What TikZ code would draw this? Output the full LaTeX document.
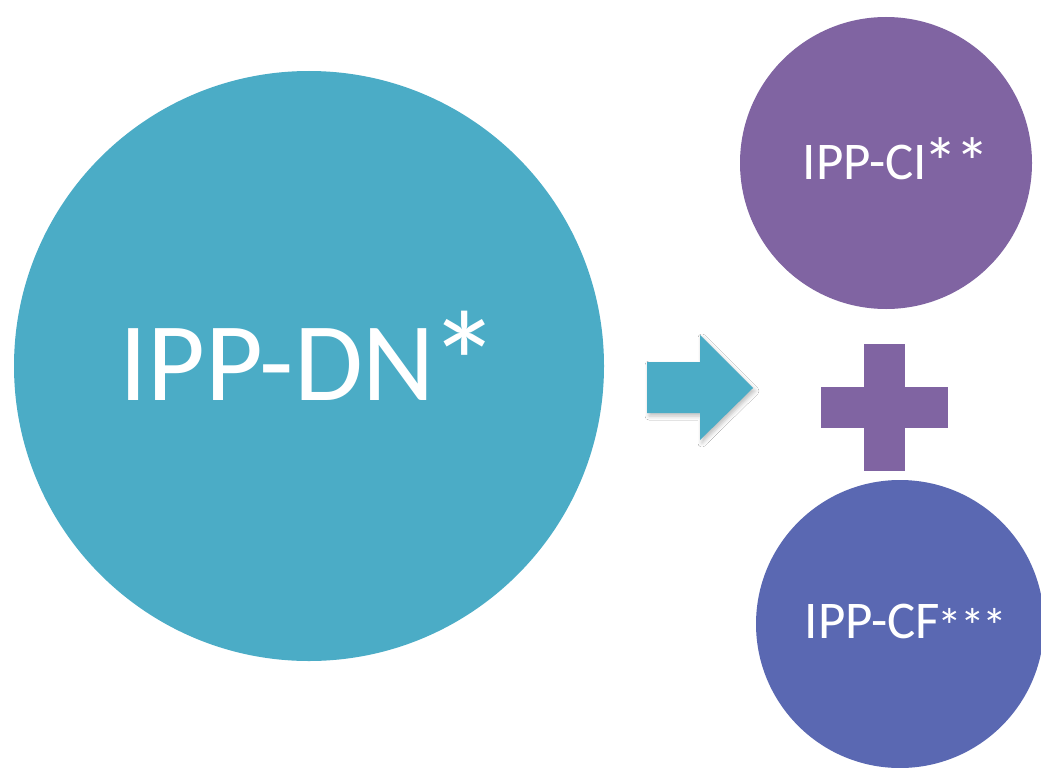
\documentclass[tikz,border=0pt]{standalone}
\usepackage{fontspec}
\setmainfont{Carlito}
\usetikzlibrary{shadows,shadows.blur}
\definecolor{teal1}{HTML}{4BACC6}
\definecolor{purple1}{HTML}{8064A2}
\definecolor{blue1}{HTML}{5A68B2}
\newcommand{\bigast}{\kern-0.06em\raisebox{-0.13em}{\scalebox{1.3}{*}}}
\tikzset{
  bubble/.style={circle, inner sep=0pt, fill=#1},
  label text/.style={text=white, inner sep=0pt},
}
\begin{document}
\begin{tikzpicture}[x=1pt,y=-1pt]
\useasboundingbox (0,0) rectangle (1041,768);
\fill[white] (0,0) rectangle (1041,768);
\node[bubble=teal1, minimum size=590pt] (dn) at (309,366) {};
\node[bubble=purple1, minimum size=292pt] (ci) at (886,163) {};
\node[bubble=blue1, minimum size=288pt] (cf) at (900,624) {};
\node[label text, font=\fontsize{112}{114}\selectfont] (dnt) at (310,363) {IPP-DN\bigast};
\node[label text, font=\fontsize{53}{55}\selectfont] (cit) at (896,162) {IPP-CI\bigast\bigast};
\node[label text, font=\fontsize{53}{55}\selectfont] (cft) at (906,624) {IPP-CF{\fontsize{38}{40}\selectfont\bigast\bigast\bigast}};
% arrow
\fill[teal1, blur shadow={shadow xshift=2pt, shadow yshift=-3pt, shadow blur radius=4pt, shadow opacity=25}]
  (647,362) -- (700,362) -- (700,335) -- (753,388) -- (700,440) -- (700,413) -- (647,413) -- cycle;
% plus
\fill[purple1] (864,344) rectangle (905,471);
\fill[purple1] (821,387) rectangle (948,428);
\end{tikzpicture}
\end{document}
